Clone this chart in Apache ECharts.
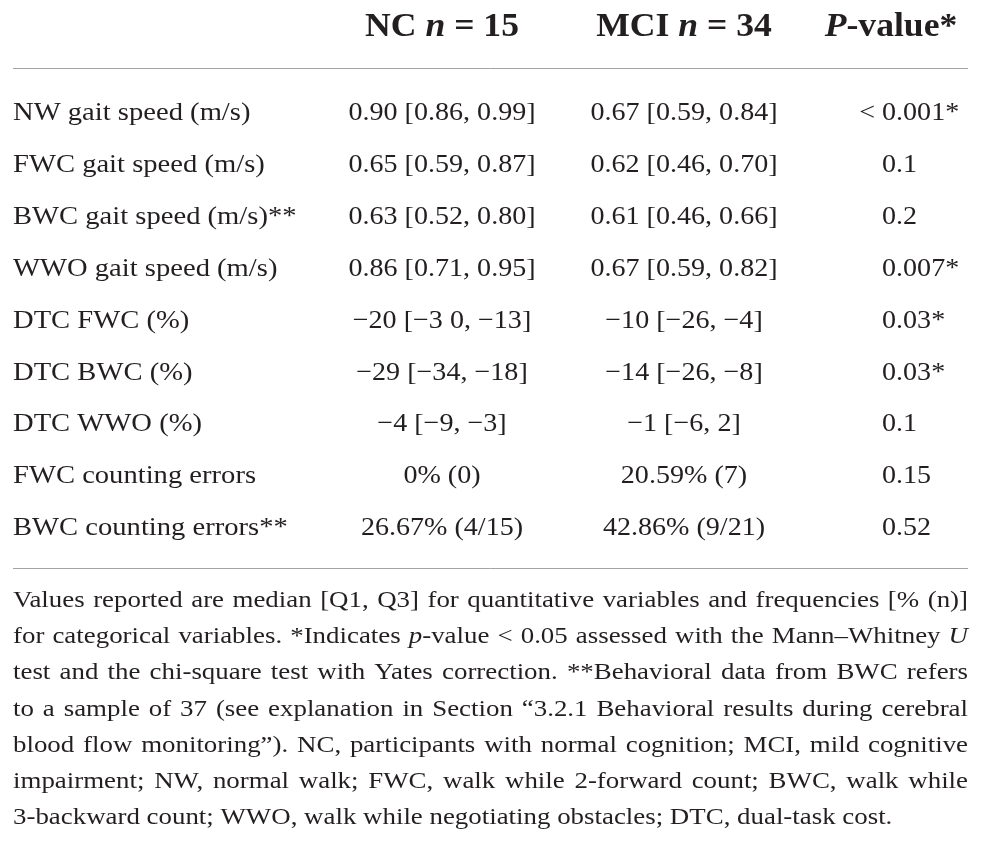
<!DOCTYPE html>
<html><head><meta charset="utf-8">
<script src="https://cdn.jsdelivr.net/npm/echarts@6/dist/echarts.min.js"></script>
<style>html,body{margin:0;padding:0;background:#fff}#main{width:982px;height:851px}</style>
</head><body><div id="main"></div>
<script>
// ---------- data ----------
const columnKeys = ['NC', 'MCI', 'P'];
const columnHeaders = ['{b|NC }{bi|n}{b| = 15}', '{b|MCI }{bi|n}{b| = 34}', '{bi|P}{b|-value*}'];
const rowLabels = [
  'NW gait speed (m/s)',
  'FWC gait speed (m/s)',
  'BWC gait speed (m/s)**',
  'WWO gait speed (m/s)',
  'DTC FWC (%)',
  'DTC BWC (%)',
  'DTC WWO (%)',
  'FWC counting errors',
  'BWC counting errors**'
];
const ncValues = [
  '0.90 [0.86, 0.99]',
  '0.65 [0.59, 0.87]',
  '0.63 [0.52, 0.80]',
  '0.86 [0.71, 0.95]',
  '\u221220 [\u22123 0, \u221213]',
  '\u221229 [\u221234, \u221218]',
  '\u22124 [\u22129, \u22123]',
  '0% (0)',
  '26.67% (4/15)'
];
const mciValues = [
  '0.67 [0.59, 0.84]',
  '0.62 [0.46, 0.70]',
  '0.61 [0.46, 0.66]',
  '0.67 [0.59, 0.82]',
  '\u221210 [\u221226, \u22124]',
  '\u221214 [\u221226, \u22128]',
  '\u22121 [\u22126, 2]',
  '20.59% (7)',
  '42.86% (9/21)'
];
const pValues = ['< 0.001*', '0.1', '0.2', '0.007*', '0.03*', '0.03*', '0.1', '0.15', '0.52'];
const footnoteLines = [
  'Values reported are median [Q1, Q3] for quantitative variables and frequencies [% (n)]',
  'for categorical variables. *Indicates {i|p}-value < 0.05 assessed with the Mann\u2013Whitney {i|U}',
  'test and the chi-square test with Yates correction. **Behavioral data from BWC refers',
  'to a sample of 37 (see explanation in Section \u201c3.2.1 Behavioral results during cerebral',
  'blood flow monitoring\u201d). NC, participants with normal cognition; MCI, mild cognitive',
  'impairment; NW, normal walk; FWC, walk while 2-forward count; BWC, walk while',
  '3-backward count; WWO, walk while negotiating obstacles; DTC, dual-task cost.'
];

// ---------- styling / layout ----------
const FONT = '"Liberation Serif", "Times New Roman", serif';
const INK = '#231f20';
const RULE = '#a3a3a3';
const SX = 1.08, SX_LABEL = 1.1, SX_NOTE = 1.12;
const CELL_SIZE = 26;
const HEAD_SIZE = 33;
const NOTE_SIZE = 24;
const LEFT = 13, RIGHT = 968;
const ROW1_BASE = 120, ROW_STEP = 51.9, HEAD_BASE = 36;
const NOTE_BASE = 607, NOTE_STEP = 36.2;

const ctx = document.createElement('canvas').getContext('2d');
function fontFor(kind, size) {
  const italic = (kind === 'i' || kind === 'bi') ? 'italic ' : '';
  const bold = (kind === 'b' || kind === 'bi') ? 'bold ' : '';
  return italic + bold + size + 'px ' + FONT;
}
// distance from the 'middle' baseline down to the alphabetic baseline
function midOffset(size, kind) {
  ctx.font = fontFor(kind, size);
  ctx.textBaseline = 'alphabetic';
  const a = ctx.measureText('Hg').fontBoundingBoxAscent;
  ctx.textBaseline = 'middle';
  const m = ctx.measureText('Hg').fontBoundingBoxAscent;
  ctx.textBaseline = 'alphabetic';
  const d = a - m;
  return isFinite(d) && d > 0 ? d : 0.31 * size;
}
function segs(str) {
  const out = []; const re = /\{(\w+)\|([^}]*)\}|([^{]+)/g; let m;
  while ((m = re.exec(str))) { if (m[1]) out.push({ k: m[1], t: m[2] }); else out.push({ k: null, t: m[3] }); }
  return out;
}
function measure(str, size, baseKind) {
  let w = 0;
  for (const s of segs(str)) { ctx.font = fontFor(s.k || baseKind, size); w += ctx.measureText(s.t).width; }
  return w;
}
function richFor(size) {
  return {
    i: { fontFamily: FONT, fontSize: size, fontStyle: 'italic', fill: INK },
    b: { fontFamily: FONT, fontSize: size, fontWeight: 'bold', fill: INK },
    bi: { fontFamily: FONT, fontSize: size, fontWeight: 'bold', fontStyle: 'italic', fill: INK }
  };
}

const cellOff = midOffset(CELL_SIZE, null);
const headOff = midOffset(HEAD_SIZE, 'b');
const noteOff = midOffset(NOTE_SIZE, null);

// ---------- cells ----------
const cellData = [], cellText = [];
rowLabels.forEach((_, r) => {
  [ncValues, mciValues, pValues].forEach((arr, c) => { cellData.push([c, r]); cellText.push(arr[r]); });
});
const labelData = rowLabels.map((_, r) => [0, r]);
const headerData = columnHeaders.map((_, c) => [c, 0]);

const P_OFFSET = -44;

function textEl(x, y, text, size, align, sx, rich) {
  return {
    type: 'text', x: x, y: y, scaleX: sx, silent: true,
    style: { text: text, fontFamily: FONT, fontSize: size, fill: INK, align: align, verticalAlign: 'middle', rich: rich }
  };
}

const gridTop = ROW1_BASE - cellOff - ROW_STEP / 2;
const gridBottom = 851 - (gridTop + ROW_STEP * rowLabels.length);

const option = {
  animation: false,
  grid: { left: 442, right: 56, top: gridTop, bottom: gridBottom },
  xAxis: { type: 'category', data: columnKeys, boundaryGap: false, show: false },
  yAxis: { type: 'category', data: rowLabels, inverse: true, show: false },
  series: [
    {
      type: 'custom', data: cellData, silent: true,
      renderItem: function (params, api) {
        const c = api.value(0), r = api.value(1);
        const pt = api.coord([c, r]);
        const t = cellText[params.dataIndex];
        if (c === 2) {
          let x = pt[0] + P_OFFSET;
          if (t.startsWith('< ')) x -= measure('< ', CELL_SIZE, null) * SX;
          return textEl(x, pt[1], t, CELL_SIZE, 'left', SX);
        }
        return textEl(pt[0], pt[1], t, CELL_SIZE, 'center', SX);
      }
    },
    {
      type: 'custom', data: labelData, silent: true,
      renderItem: function (params, api) {
        const pt = api.coord([api.value(0), api.value(1)]);
        return textEl(LEFT, pt[1], rowLabels[params.dataIndex], CELL_SIZE, 'left', SX_LABEL);
      }
    },
    {
      type: 'custom', data: headerData, silent: true,
      renderItem: function (params, api) {
        const c = api.value(0);
        const pt = api.coord([c, 0]);
        const x = c === 2 ? pt[0] - 35 : pt[0];
        return textEl(x, HEAD_BASE - headOff, columnHeaders[params.dataIndex], HEAD_SIZE, 'center', SX, richFor(HEAD_SIZE));
      }
    }
  ],
  graphic: []
};

// rules
option.graphic.push({ type: 'line', silent: true, shape: { x1: LEFT, y1: 68.5, x2: RIGHT, y2: 68.5 }, style: { stroke: RULE, lineWidth: 1 } });
option.graphic.push({ type: 'line', silent: true, shape: { x1: LEFT, y1: 568.5, x2: RIGHT, y2: 568.5 }, style: { stroke: RULE, lineWidth: 1 } });

// footnote, justified
const noteRich = richFor(NOTE_SIZE);
footnoteLines.forEach((line, li) => {
  const words = line.split(' ');
  const widths = words.map(w => measure(w, NOTE_SIZE, null));
  const natural = widths.reduce((a, b) => a + b, 0);
  ctx.font = fontFor(null, NOTE_SIZE);
  const space = ctx.measureText(' ').width;
  const last = li === footnoteLines.length - 1;
  let sx = SX_NOTE;
  const avail = RIGHT - LEFT;
  if (!last && natural * sx + (words.length - 1) * space * 0.8 > avail) {
    sx = (avail - (words.length - 1) * space * 0.8) / natural;
  }
  const gap = last ? space * sx : (avail - natural * sx) / (words.length - 1);
  let x = LEFT;
  const y = NOTE_BASE + li * NOTE_STEP - noteOff;
  words.forEach((w, wi) => {
    option.graphic.push({
      type: 'text', x: x, y: y, scaleX: sx, silent: true,
      style: { text: w, fontFamily: FONT, fontSize: NOTE_SIZE, fill: INK, align: 'left', verticalAlign: 'middle', rich: noteRich }
    });
    x += widths[wi] * sx + gap;
  });
});

const chart = echarts.init(document.getElementById('main'), null, { renderer: 'canvas' });
chart.setOption(option);
</script></body></html>
